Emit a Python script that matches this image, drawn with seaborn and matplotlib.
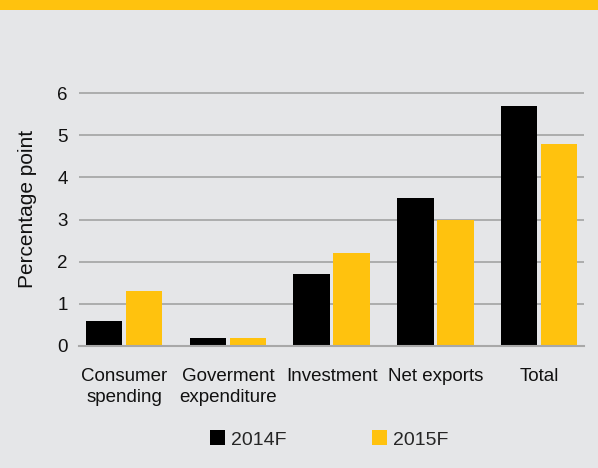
import matplotlib
matplotlib.use("Agg")
import matplotlib.pyplot as plt
from matplotlib.patches import Rectangle
import seaborn as sns
import pandas as pd
import numpy as np

# Contribution to GDP growth, percentage points
categories = ["Consumer\nspending", "Goverment\nexpenditure", "Investment", "Net exports", "Total"]
series_names = ["2014F", "2015F"]
values_2014 = [0.6, 0.2, 1.7, 3.5, 5.7]
values_2015 = [1.3, 0.2, 2.2, 3.0, 4.8]
y_ticks = [0, 1, 2, 3, 4, 5, 6]

BG = "#E5E6E8"
YELLOW = "#FFC20E"
GRID = "#A8A8A8"
INK = "#111111"

df = pd.DataFrame({
    "category": categories * 2,
    "series": [series_names[0]] * len(categories) + [series_names[1]] * len(categories),
    "value": values_2014 + values_2015,
})

sns.set_theme(style="white")
plt.rcParams["font.family"] = ["Liberation Sans", "DejaVu Sans"]

fig = plt.figure(figsize=(5.98, 4.68), dpi=100, facecolor=BG)
ax = fig.add_axes([79 / 598, 1 - 346 / 468, 505 / 598, 255 / 468])
ax.set_facecolor(BG)

# Yellow strip along the top edge
fig.patches.append(Rectangle((0, 1 - 10 / 468), 1, 10 / 468, transform=fig.transFigure,
                             facecolor=YELLOW, edgecolor="none", zorder=0))

sns.barplot(data=df, x="category", y="value", hue="series", order=categories,
            hue_order=series_names, palette={"2014F": "black", "2015F": YELLOW},
            width=0.77, gap=0.09, saturation=1, linewidth=0, ax=ax, legend=True)

ax.set_ylim(0, 6.05)
ax.set_xlim(-0.434, 4.432)
ax.set_yticks(y_ticks)
ax.set_yticklabels([str(t) for t in y_ticks])
ax.yaxis.grid(True, color=GRID, linewidth=1.3)
ax.set_axisbelow(True)

for side in ["top", "right", "left"]:
    ax.spines[side].set_visible(False)
ax.spines["bottom"].set_color(GRID)
ax.spines["bottom"].set_linewidth(1.5)

ax.tick_params(axis="y", length=0, pad=8, labelsize=13.5, labelcolor=INK)
ax.tick_params(axis="x", which="major", length=0, pad=16, labelsize=13.5, labelcolor=INK)
ax.set_xticks(np.arange(4) + 0.48, minor=True)
ax.tick_params(axis="x", which="minor", length=6, width=1.3, color=GRID, direction="out")
for lbl in ax.get_xticklabels():
    lbl.set_linespacing(1.32)

ax.set_xlabel("")
ax.set_ylabel("Percentage point", fontsize=15, color=INK, va="center")
ax.yaxis.set_label_coords(-0.101, 0.537)

handles, labels = ax.get_legend_handles_labels()
ax.get_legend().remove()
fig.legend(handles, labels, loc="center", bbox_to_anchor=(329 / 598, 1 - 439.5 / 468),
           ncol=2, frameon=False, fontsize=14, handlelength=0.78, handleheight=0.78,
           handletextpad=0.3, columnspacing=4.4, borderpad=0)

fig.savefig("out.png", dpi=100, facecolor=BG)
